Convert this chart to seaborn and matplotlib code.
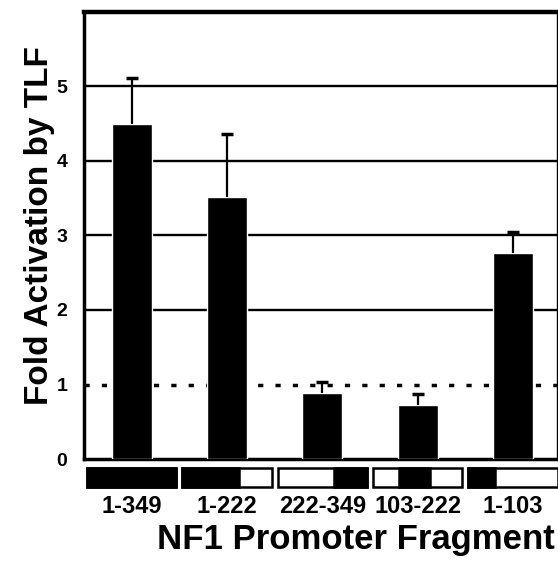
import pandas as pd
import matplotlib
matplotlib.use("Agg")
import matplotlib.pyplot as plt
import seaborn as sns
from matplotlib.patches import Rectangle

sns.set_style("white")
plt.rcParams['font.family'] = ['Liberation Sans', 'DejaVu Sans']
plt.rcParams['font.weight'] = 'bold'
plt.rcParams['text.color'] = 'black'
plt.rcParams['axes.labelcolor'] = 'black'
plt.rcParams['xtick.color'] = 'black'
plt.rcParams['ytick.color'] = 'black'

# Data
fragments = ["1-349", "1-222", "222-349", "103-222", "1-103"]
fold = [4.5, 3.52, 0.89, 0.73, 2.76]
err_up = [0.62, 0.84, 0.15, 0.14, 0.29]
frag_start = [1, 1, 222, 103, 1]
frag_end = [349, 222, 349, 222, 103]
promoter_len = 349

df = pd.DataFrame({"fragment": fragments, "fold": fold})

fig = plt.figure(figsize=(5.58, 5.65), dpi=100)
ax = fig.add_axes([0.1505, 0.1876, 0.8475, 0.7912])

sns.barplot(data=df, x="fragment", y="fold", color="black", saturation=1,
            width=0.42, errorbar=None, ax=ax, zorder=3)

# upward-only error bars (hide the lower cap)
eb = ax.errorbar(range(len(fold)), fold, yerr=[[0] * len(fold), err_up], fmt='none',
                 ecolor='black', elinewidth=1.6, capsize=4.5, capthick=2.5, zorder=4)
eb[1][0].set_visible(False)

# grid lines
for v in [2, 3, 4, 5]:
    ax.axhline(v, color='black', lw=1.7, zorder=1)
ax.axhline(1, color='black', lw=2.5, ls=(0, (1.5, 3.5)), zorder=1)

ax.set_ylim(0, 6)
ax.set_xlim(-0.5, 4.46)
ax.set_yticks([0, 1, 2, 3, 4, 5])

# fragment diagrams under the axis
trans = ax.get_xaxis_transform()
box_w = 0.94
for i, (s, e) in enumerate(zip(frag_start, frag_end)):
    x0 = i - box_w / 2
    ax.add_patch(Rectangle((x0, -0.063), box_w, 0.043, transform=trans,
                           facecolor='white', edgecolor='black', lw=1.8, clip_on=False))
    bx = x0 + (s - 1) / promoter_len * box_w
    bw = (e - s + 1) / promoter_len * box_w
    ax.add_patch(Rectangle((bx, -0.063), bw, 0.043, transform=trans,
                           facecolor='black', edgecolor='black', lw=1.8, clip_on=False))

# spines
ax.spines['top'].set_linewidth(3.2)
ax.spines['left'].set_linewidth(2.5)
ax.spines['bottom'].set_linewidth(2.5)
ax.spines['right'].set_linewidth(1.0)
for sp in ax.spines.values():
    sp.set_color('black')

ax.tick_params(axis='x', length=0, pad=26, labelsize=17)
ax.tick_params(axis='y', length=0, pad=12, labelsize=14)

ax.set_xlabel("NF1 Promoter Fragment", fontsize=25, fontweight='bold')
ax.xaxis.set_label_coords(0.575, -0.143)
ax.set_ylabel("Fold Activation by TLF", fontsize=24, fontweight='bold')
ax.yaxis.set_label_coords(-0.062, 0.523)

plt.savefig("out.png", dpi=100)
